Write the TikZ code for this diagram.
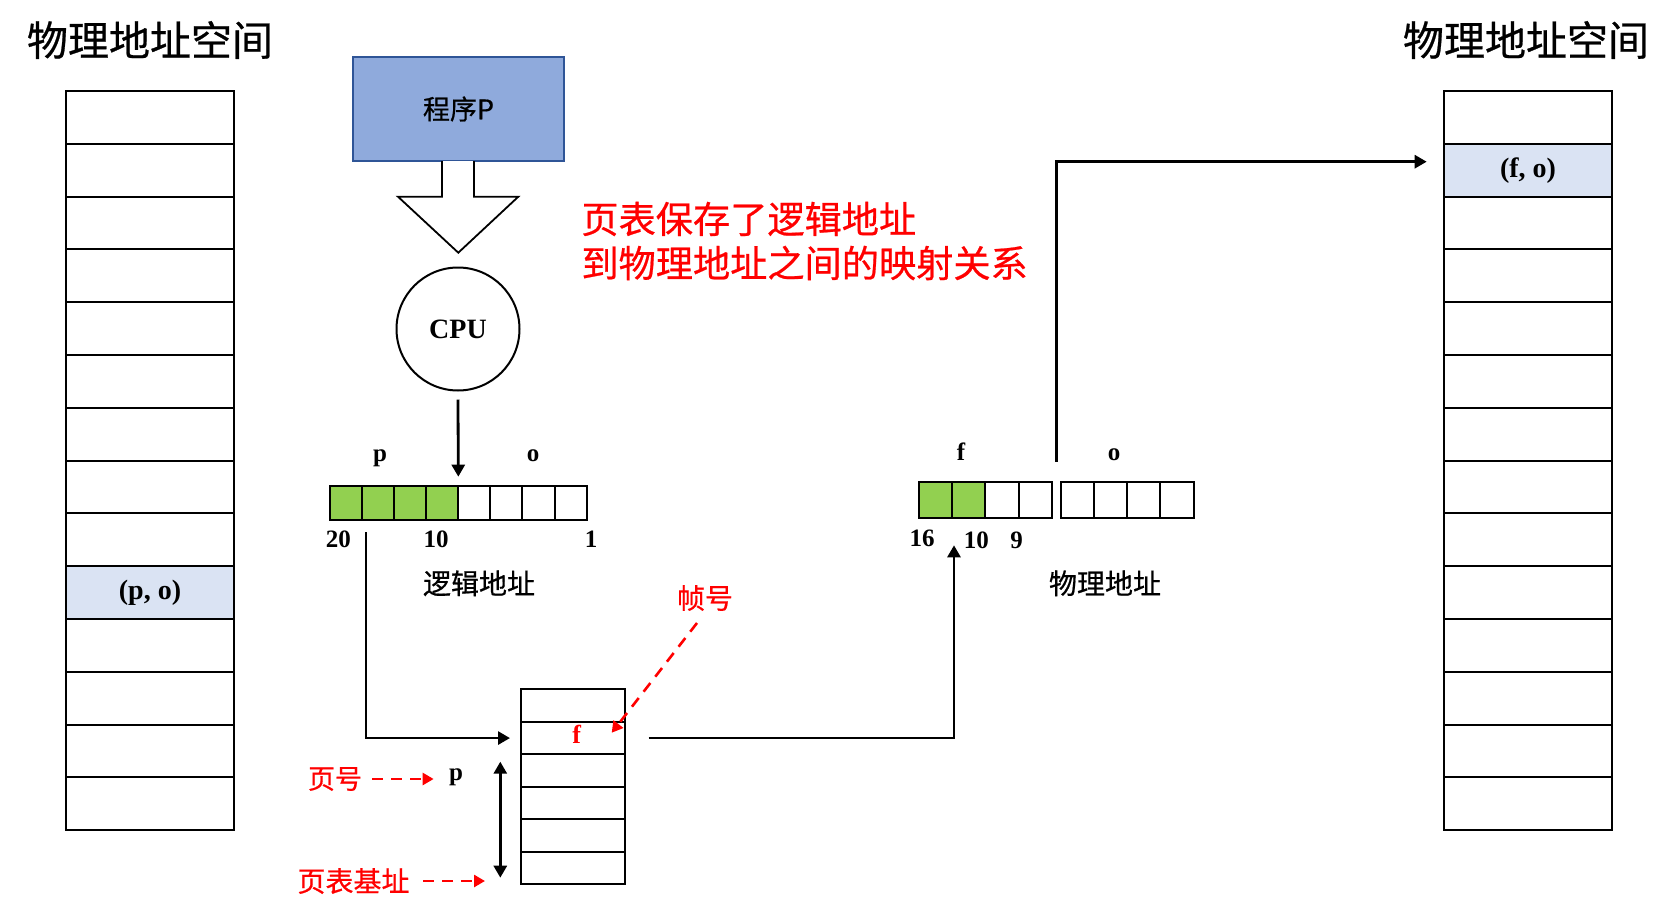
\documentclass[tikz,border=0pt]{standalone}
\usepackage{fontspec}
\setmainfont{Liberation Serif}
\newfontfamily\cjk[FakeBold=0.6]{Noto Sans CJK SC}
\usetikzlibrary{arrows.meta,calc}
\definecolor{bitgreen}{HTML}{92D050}
\definecolor{hlblue}{HTML}{DAE3F3}
\definecolor{progfill}{HTML}{8FAADC}
\definecolor{progborder}{HTML}{2F5597}
\definecolor{redtxt}{HTML}{FF0000}
\begin{document}
\begin{tikzpicture}[x=0.5pt,y=-0.5pt,
  cell/.style={draw, line width=1pt, minimum width=84pt, minimum height=26.4pt, inner sep=0pt, outer sep=0pt, font=\fontsize{14}{16}\selectfont\bfseries},
  bitL/.style={draw, line width=1pt, minimum width=16.04pt, minimum height=17.15pt, inner sep=0pt, outer sep=0pt},
  bitP/.style={draw, line width=1pt, minimum width=16.6pt, minimum height=18pt, inner sep=0pt, outer sep=0pt},
  ptcell/.style={draw, line width=1pt, minimum width=52pt, minimum height=16.25pt, inner sep=0pt, outer sep=0pt},
  on/.style={fill=bitgreen},
  hl/.style={fill=hlblue},
  lbl/.style={inner sep=0pt, font=\fontsize{12.5}{14}\selectfont\bfseries, anchor=base},
  cn/.style={inner sep=0pt, font=\cjk\fontsize{14}{16}\selectfont},
  title/.style={inner sep=0pt, font=\cjk\fontsize{20.5}{24}\selectfont},
  note/.style={inner sep=0pt, anchor=west, text=redtxt, font=\cjk\fontsize{18.6}{22}\selectfont},
  arr/.style={line width=1.4pt, -{Triangle[length=6pt,width=6.5pt]}},
  darr/.style={line width=1.4pt, {Triangle[length=6pt,width=6.5pt]}-{Triangle[length=6pt,width=6.5pt]}},
  rdash/.style={draw=redtxt, line width=1.3pt, dash pattern=on 5.5pt off 4pt, -{Triangle[length=5.5pt,width=6pt]}},
]
\useasboundingbox (0,0) rectangle (1678,916);

% titles
\node[title] (tl) at (150,40) {物理地址空间};
\node[title] (tr) at (1526,40) {物理地址空间};

% left memory column
\foreach \i in {0,...,8,10,11,12,13} \node[cell] (L\i) at (150,{117.4+52.8*\i}) {};
\node[cell,hl] (L9) at (150,{117.4+52.8*9}) {(p, o)};

% right memory column
\foreach \i in {0,2,3,4,5,6,7,8,9,10,11,12,13} \node[cell] (R\i) at (1528,{117.4+52.8*\i}) {};
\node[cell,hl] (R1) at (1528,{117.4+52.8}) {(f, o)};

% program and CPU
\node[draw=progborder, fill=progfill, line width=0.9pt, minimum width=105.5pt, minimum height=52pt, inner sep=0pt, font=\cjk\fontsize{13.5}{15}\selectfont] (prog) at (458.5,109) {程序P};
\draw[line width=0.9pt, fill=white] (442,161.2) -- (442,196.7) -- (398,196.7) -- (458.3,252.7) -- (518.3,196.7) -- (474,196.7) -- (474,161.2);
\node[circle, draw, line width=1pt, minimum size=61.5pt, inner sep=0pt, font=\fontsize{14}{16}\selectfont\bfseries] (cpu) at (458,329) {CPU};

% red note
\node[note] (note1) at (581,219) {页表保存了逻辑地址};
\node[note] (note2) at (581,263) {到物理地址之间的映射关系};

% logical address bits
\foreach \i in {0,...,3} \node[bitL,on] (lb\i) at ({346.04+32.08*\i},502.85) {};
\foreach \i in {4,...,7} \node[bitL] (lb\i) at ({346.04+32.08*\i},502.85) {};
\node[lbl] (lp) at (380,461.5) {p};
\node[lbl] (lo) at (533,461.5) {o};
\node[lbl] (n20) at (338.3,547.7) {20};
\node[lbl] (n10) at (436.2,547.7) {10};
\node[lbl] (n1) at (591,547.7) {1};
\node[cn] (la) at (479,583.3) {逻辑地址};

% physical address bits
\foreach \i in {0,1} \node[bitP,on] (pb\i) at ({935.6+33.2*\i},500.3) {};
\foreach \i in {2,3} \node[bitP] (pb\i) at ({935.6+33.2*\i},500.3) {};
\foreach \i in {0,...,3} \node[bitP] (pc\i) at ({1077.3+33.2*\i},500.3) {};
\node[lbl] (pf) at (961,460) {f};
\node[lbl] (po) at (1114,460) {o};
\node[lbl] (n16) at (922,546.7) {16};
\node[lbl] (n10b) at (976.3,548) {10};
\node[lbl] (n9) at (1016.7,548) {9};
\node[cn] (pa) at (1105,583.3) {物理地址};

% page table
\foreach \i in {0,...,5} \node[ptcell] (pt\i) at (573,{705.55+32.5*\i}) {};
\node[lbl, text=redtxt, font=\fontsize{13}{15}\selectfont\bfseries] (fl) at (576.7,743.3) {f};

% labels near page table
\node[cn, text=redtxt] (fh) at (705,598) {帧号};
\node[cn, text=redtxt, font=\cjk\fontsize{13.5}{16}\selectfont] (yh) at (335,779) {页号};
\node[lbl] (pl) at (456,780) {p};
\node[cn, text=redtxt] (ybj) at (353.5,881) {页表基址};

% connectors
\draw[arr] ([yshift=-4pt]cpu.south) -- ([yshift=4.5pt]lb3.north east);
\draw[arr] ([xshift=2pt,yshift=-6pt]lb0.south east) |- ([xshift=-5.5pt]pt1.west);
\draw[arr] ([xshift=11.75pt]pt1.east) -| ([xshift=0.9pt,yshift=-13.5pt]pb0.south east);
\coordinate (gap) at ($(pb3.north east)!0.5!(pc0.north west)$);
\draw[arr] ([yshift=10.3pt]gap) |- ([xshift=-8.65pt,yshift=4.25pt]R1.west);

\draw[rdash] ([xshift=-4pt,yshift=-12.5pt]fh.center) -- ([xshift=-6.65pt,yshift=2.65pt]pt1.east);
\coordinate (pe) at (yh.east -| pl.west);
\draw[rdash] ([xshift=4.85pt]yh.east) -- ([xshift=-7.5pt]pe);
\coordinate (be) at (ybj.east -| pt5.west);
\draw[rdash] ([xshift=6.6pt]ybj.east) -- ([xshift=-18pt]be);
\draw[darr] ([xshift=-10.35pt,yshift=-3.7pt]pt2.north west) -- ([xshift=-10.35pt,yshift=3.3pt]pt5.south west);
\end{tikzpicture}
\end{document}
